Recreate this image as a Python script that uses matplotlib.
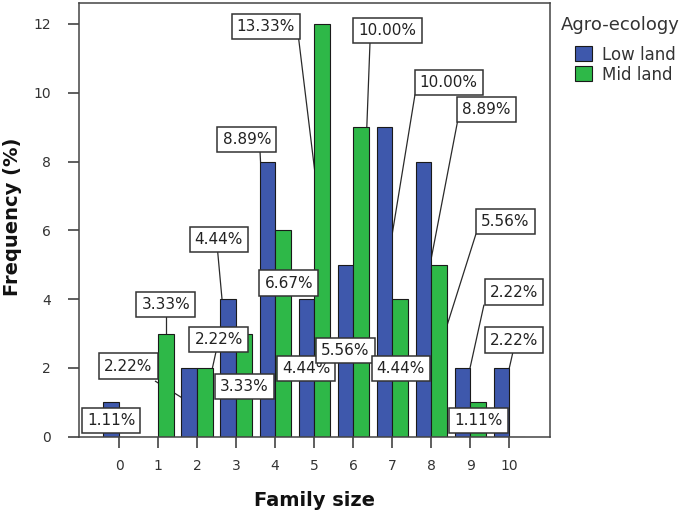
import matplotlib
matplotlib.use("Agg")
import matplotlib.pyplot as plt
from matplotlib.patches import Patch
import numpy as np

# ---- data ----
family_size = [0, 1, 2, 3, 4, 5, 6, 7, 8, 9, 10]
low_land = [1, 0, 2, 4, 8, 4, 5, 9, 8, 2, 2]
mid_land = [0, 3, 2, 3, 6, 12, 9, 4, 5, 1, 0]
series_names = ["Low land", "Mid land"]
legend_title = "Agro-ecology"
total_n = 90  # respondents (percent labels = count / total)

# ---- layout of value labels (box centre, leader anchor), data coords ----
low_label_pos = {0: (-0.20, 0.48), 2: (0.238, 2.055), 3: (2.557, 5.733), 4: (3.274, 8.648),
                 5: (4.79, 1.99), 6: (5.80, 2.50), 7: (8.447, 10.297), 8: (9.416, 9.526),
                 9: (10.126, 4.206), 10: (10.126, 2.811)}
low_label_anchor = {2: (0.922, 1.62), 3: (2.529, 5.37), 4: (3.613, 8.30), 7: (7.584, 9.95),
                    8: (8.673, 9.16), 9: (9.352, 3.84), 10: (10.095, 2.47)}
mid_label_pos = {1: (1.20, 3.852), 2: (2.554, 2.834), 3: (3.208, 1.465), 4: (4.348, 4.468),
                 5: (3.761, 11.939), 6: (6.879, 11.814), 7: (7.22, 1.99), 8: (9.903, 6.256),
                 9: (9.21, 0.48)}
mid_label_anchor = {1: (1.20, 3.50), 2: (2.485, 2.47), 5: (4.60, 11.60), 6: (6.431, 11.46),
                    8: (9.147, 5.90)}

BLUE = "#3E58AC"
GREEN = "#2EB848"
DARK = "#2a2a2a"

fig = plt.figure(figsize=(6.85, 5.18), dpi=100)
ax = fig.add_axes([79 / 685, 1 - 436.7 / 518, 471 / 685, 433.7 / 518])

x = np.array(family_size, dtype=float)
w = 0.4
ax.bar(x - w / 2, low_land, width=w, color=BLUE, edgecolor="#1a1a1a", linewidth=0.8, zorder=2)
ax.bar(x + w / 2, mid_land, width=w, color=GREEN, edgecolor="#1a1a1a", linewidth=0.8, zorder=2)

def add_labels(values, offset, pos, anchors):
    for k, v in zip(family_size, values):
        if v == 0:
            continue
        bx, by = k + offset, v / 2.0
        tx, ty = pos[k]
        ax_, ay_ = anchors.get(k, (tx, ty))
        ax.plot([ax_, bx], [ay_, by], color=DARK, lw=0.9, zorder=1, solid_capstyle="butt")
        ax.text(tx, ty, f"{100.0 * v / total_n:.2f}%", ha="center", va="center",
                fontsize=11, color="#222222", zorder=5,
                bbox=dict(boxstyle="square,pad=0.33", fc="white", ec="#333333", lw=1.1))

add_labels(low_land, -w / 2, low_label_pos, low_label_anchor)
add_labels(mid_land, w / 2, mid_label_pos, mid_label_anchor)

ax.set_xlim(-1.025, 11.043)
ax.set_ylim(0, 12.61)
ax.set_xticks(family_size)
ax.set_xticklabels([str(f) for f in family_size])
ax.set_yticks([0, 2, 4, 6, 8, 10, 12])
ax.tick_params(axis="both", direction="out", length=8, width=1.1, color="#333333",
               labelsize=10, labelcolor="#333333")
ax.tick_params(axis="y", pad=12)
ax.tick_params(axis="x", pad=8)
for s in ax.spines.values():
    s.set_color("#444444")
    s.set_linewidth(1.1)

ax.set_xlabel("Family size", fontsize=14, fontweight="bold", color="#111111")
ax.xaxis.set_label_coords(0.5, -0.148)
ax.xaxis.label.set_va("center")
ax.set_ylabel("Frequency (%)", fontsize=14, fontweight="bold", color="#111111")
ax.yaxis.set_label_coords(-0.142, 0.508)
ax.yaxis.label.set_va("center")

fig.text(561 / 685, 1 - 25 / 518, legend_title, fontsize=13, ha="left", va="center", color="#333333")
handles = [Patch(facecolor=BLUE, edgecolor="#1a1a1a", lw=0.8),
           Patch(facecolor=GREEN, edgecolor="#1a1a1a", lw=0.8)]
fig.legend(handles, series_names, loc="upper left", bbox_to_anchor=(575 / 685, 1 - 45.5 / 518),
           bbox_transform=fig.transFigure, frameon=False, fontsize=12, handlelength=1.02,
           handleheight=1.0, handletextpad=0.6, labelspacing=0.12, borderpad=0, borderaxespad=0,
           labelcolor="#333333")

fig.savefig("out.png", dpi=100)
